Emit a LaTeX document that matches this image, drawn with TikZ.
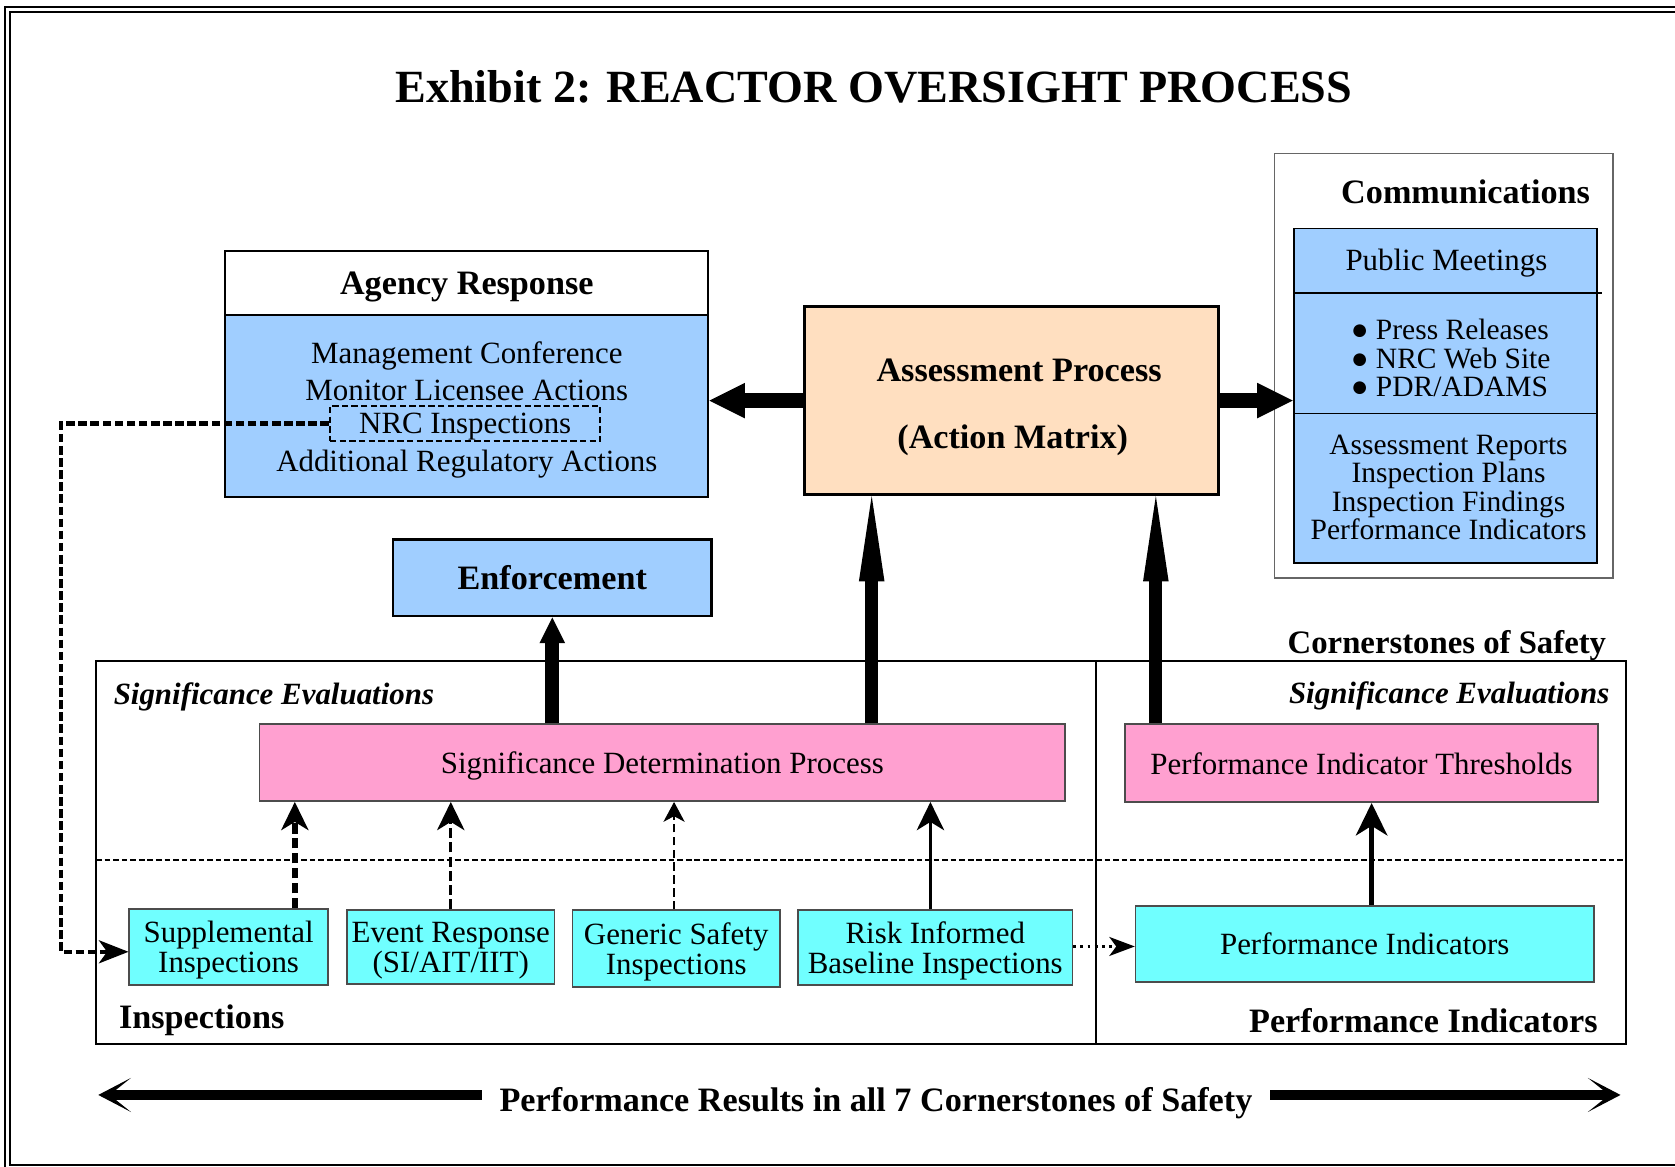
\documentclass[tikz,border=0pt]{standalone}
\usepackage{fontspec}
\setmainfont{Liberation Serif}
\usetikzlibrary{arrows.meta}

\definecolor{agencyblue}{RGB}{160,206,255}
\definecolor{assesspeach}{RGB}{255,223,192}
\definecolor{sdppink}{RGB}{255,160,208}
\definecolor{inspcyan}{RGB}{112,255,255}

\newcommand{\txtfont}{\fontsize{21.7}{21}\selectfont}
\newcommand{\commfont}{\fontsize{20.7}{20}\selectfont}
\newcommand{\hdfont}{\fontsize{24}{29}\selectfont\bfseries}
\newcommand{\ttlfont}{\fontsize{32.4}{38}\selectfont\bfseries}
\newcommand{\evalfont}{\fontsize{21.7}{26}\selectfont\bfseries\itshape}

\tikzset{every picture/.style={line width=0.75pt}}
\tikzset{
  every node/.style={text depth=0pt},
  hdbox/.style={draw, line width=1.5pt, inner sep=0pt, align=center},
  lowbox/.style={draw=black!70, line width=1.1pt, inner sep=0pt, align=center, font=\txtfont},
  sidearrow/.style={line width=10.5pt, -{Triangle[length=25pt,width=25pt,line width=0pt]}},
  uparrow/.style={line width=9.75pt, -{Triangle[length=18pt,width=18pt,line width=0pt]}},
  longarrow/.style={line width=9pt, -{Triangle[length=60pt,width=18pt,line width=0pt]}},
  supparrow/.style={line width=3.75pt, dash pattern=on 7.5pt off 3pt, -{Stealth[length=20pt,width=19.5pt,inset=6pt,line width=0pt]}},
  eventarrow/.style={line width=2pt, dash pattern=on 7pt off 3pt, -{Stealth[length=20pt,width=19.5pt,inset=6pt,line width=0pt]}},
  genarrow/.style={line width=1.5pt, dash pattern=on 6pt off 3pt, -{Stealth[length=14pt,width=15pt,inset=4pt,line width=0pt]}},
  riskarrow/.style={line width=2.6pt, -{Stealth[length=20pt,width=19.5pt,inset=6pt,line width=0pt]}},
  piarrow/.style={line width=3pt, -{Stealth[length=23pt,width=22.5pt,inset=7pt,line width=0pt]}},
  dotarrow/.style={line width=2.2pt, dash pattern=on 2pt off 3pt, -{Stealth[length=18pt,width=13.5pt,inset=5pt,line width=0pt]}},
  fbarrow/.style={line width=3pt, dash pattern=on 6pt off 2.5pt, -{Stealth[length=21pt,width=16.5pt,inset=6pt,line width=0pt]}},
  resarrow/.style={line width=7pt, -{Stealth[length=23pt,width=24pt,inset=15pt,line width=0pt]}}
}

\begin{document}
\begin{tikzpicture}[x=0.75pt,y=0.75pt,yscale=-1,xscale=1]
\useasboundingbox (0,0) rectangle (1568,1091.6);
\clip (0,0) rectangle (1568,1091.6);
%Double border
\draw [line width=1.6pt] (4.7,6.5) rectangle (1640,1140);
\draw [line width=1.6pt] (9.4,11.2) rectangle (1630,1090.6);

% Text Node
\draw (818,81) node [inner sep=0.75pt] [font=\ttlfont] (title) {Exhibit 2: REACTOR OVERSIGHT PROCESS};

%Agency Response
\draw (437,265) node [hdbox, fill=white, minimum width=339pt, minimum height=45pt, font=\hdfont] (agencyhd) {Agency Response};
\draw (437,380) node [hdbox, fill=agencyblue, minimum width=339pt, minimum height=127.5pt] (agency) {};
\draw (437,330) node [inner sep=0.75pt] [font=\txtfont] (mgmt) {Management Conference};
\draw (437,365) node [inner sep=0.75pt] [font=\txtfont] (monitor) {Monitor Licensee Actions};
\draw (435.5,396.5) node [draw, line width=1.5pt, dash pattern=on 4.5pt off 2.25pt, minimum width=189.75pt, minimum height=24.75pt, inner sep=0pt] [font=\txtfont] (nrcinsp) {NRC Inspections};
\draw (437,431) node [inner sep=0.75pt] [font=\txtfont] (addl) {Additional Regulatory Actions};

%Assessment Process
\draw (947,375) node [hdbox, line width=2pt, fill=assesspeach, minimum width=291pt, minimum height=132pt] (assess) {};
\draw (954,347) node [inner sep=0.75pt] [font=\hdfont] (assesstxt) {Assessment Process};
\draw (948,409) node [inner sep=0.75pt] [font=\hdfont] (matrixtxt) {(Action Matrix)};

%Enforcement
\draw (517,541) node [hdbox, fill=agencyblue, minimum width=223.5pt, minimum height=54pt, font=\hdfont] (enforce) {Enforcement};

%Communications
\draw (1351.5,342.5) node [draw=black!60, line width=0.9pt, minimum width=237.75pt, minimum height=297.75pt, inner sep=0pt] (commouter) {};
\draw (1372,179) node [inner sep=0.75pt] [font=\hdfont] (commtitle) {Communications};
\draw (1353,370.5) node [hdbox, line width=1.2pt, fill=agencyblue, minimum width=213pt, minimum height=234.75pt] (commbox) {};
\draw [line width=1.2pt] (1211,274) -- (1500,274);
\draw [line width=1.2pt] (1211,387) -- (1495,387);
\draw (1354,243) node [inner sep=0.75pt] [font=\txtfont] (pubmeet) {Public Meetings};
\draw (1263,335) node [anchor=west, inner sep=0.75pt] [font=\commfont] [align=left] (press) {● Press Releases\\● NRC Web Site\\● PDR/ADAMS};
\draw (1356,456) node [inner sep=0.75pt] [font=\commfont] [align=center] (reports) {Assessment Reports\\Inspection Plans\\Inspection Findings\\Performance Indicators};

%Cornerstones frame
\draw [line width=1.5pt] (90,619) rectangle (1522,977);
\draw [line width=1.1pt] (1026,619) -- (1026,977);
\draw [line width=1pt, dash pattern=on 4pt off 2pt] (90,805) -- (1522,805);
\draw (1505,601) node [anchor=east, inner sep=0.75pt] [font=\fontsize{23}{28}\selectfont\bfseries] (cornerlbl) {Cornerstones of Safety};
\draw (105,649) node [anchor=west, inner sep=0.75pt] [font=\evalfont] (evalleft) {Significance Evaluations};
\draw (1508,648) node [anchor=east, inner sep=0.75pt] [font=\evalfont] (evalright) {Significance Evaluations};
\draw (110,952) node [anchor=west, inner sep=0.75pt] [font=\hdfont] (insplbl) {Inspections};
\draw (1497,955) node [anchor=east, inner sep=0.75pt] [font=\hdfont] (pilbl) {Performance Indicators};

%Evaluation boxes
\draw (620,714) node [lowbox, fill=sdppink, minimum width=565.5pt, minimum height=54pt] (sdp) {Significance Determination Process};
\draw (1274.5,714.5) node [lowbox, fill=sdppink, minimum width=332.25pt, minimum height=54.75pt] (pit) {Performance Indicator Thresholds};

%Inspection boxes
\draw (214,886.5) node [lowbox, fill=inspcyan, minimum width=139.5pt, minimum height=53.25pt] (supp) {Supplemental\\Inspections};
\draw (422,886.5) node [lowbox, fill=inspcyan, minimum width=145.5pt, minimum height=51.75pt] (event) {Event Response\\(SI/AIT/IIT)};
\draw (633,888) node [lowbox, fill=inspcyan, minimum width=145.5pt, minimum height=54pt] (generic) {Generic Safety\\Inspections};
\draw (875.5,887) node [lowbox, fill=inspcyan, minimum width=192.75pt, minimum height=52.5pt] (risk) {Risk Informed\\Baseline Inspections};
\draw (1277.5,883.5) node [lowbox, fill=inspcyan, minimum width=321.75pt, minimum height=53.25pt] (pi) {Performance Indicators};

%Arrows
\draw [sidearrow] (assess.west) -- (assess.west -| agency.east);
\draw [sidearrow] (assess.east) -- (assess.east -| commbox.west);
\draw [uparrow] (enforce.south |- sdp.north) -- (enforce.south);
\draw [longarrow] (sdp.north -| 816,0) -- (assess.south -| 816,0);
\draw [longarrow] (pit.north -| 1082,0) -- (assess.south -| 1082,0);
\draw [supparrow] (supp.north -| 276,0) -- (sdp.south -| 276,0);
\draw [eventarrow] (event.north -| 422,0) -- (sdp.south -| 422,0);
\draw [genarrow] (generic.north -| 631,0) -- (sdp.south -| 631,0);
\draw [riskarrow] (risk.north -| 871,0) -- (sdp.south -| 871,0);
\draw [piarrow] (pi.north -| 1284,0) -- (pit.south -| 1284,0);
\draw [dotarrow] (risk.east |- 0,886) -- (pi.west |- 0,886);
\draw [fbarrow] (nrcinsp.west) -| (57,891) -- (supp.west |- 0,891);

%Performance results
\draw (820,1029) node [inner xsep=12pt, inner ysep=0.75pt] [font=\hdfont] (perfres) {Performance Results in all 7 Cornerstones of Safety};
\coordinate (leftend) at (92,1025);
\coordinate (rightend) at (1517,1025);
\draw [resarrow] (perfres.west |- leftend) -- (leftend);
\draw [resarrow] (perfres.east |- rightend) -- (rightend);
\end{tikzpicture}
\end{document}
